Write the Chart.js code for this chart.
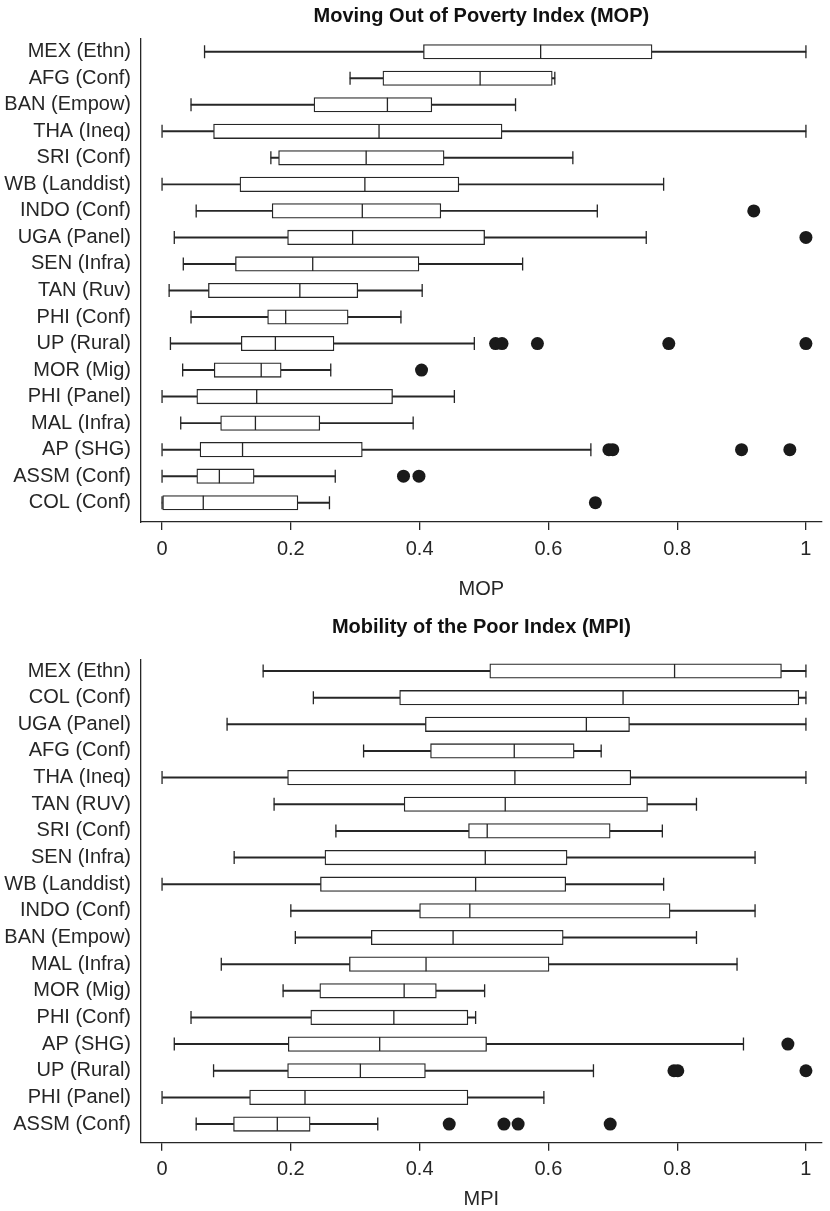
<!DOCTYPE html>
<html>
<head>
<meta charset="utf-8">
<script src="https://cdn.jsdelivr.net/npm/chart.js@4"></script>
<style>
  html, body { margin: 0; padding: 0; background: #fff; }
  #wrap { position: relative; width: 830px; height: 1211px; }
  canvas { position: absolute; left: 0; }
</style>
</head>
<body>
<div id="wrap">
  <canvas id="mop" width="830" height="610" style="top:0"></canvas>
  <canvas id="mpi" width="830" height="601" style="top:610px"></canvas>
</div>
<script>
// --- data ---
const xTicks = [0, 0.2, 0.4, 0.6, 0.8, 1];

const mopLabels = ['MEX (Ethn)', 'AFG (Conf)', 'BAN (Empow)', 'THA (Ineq)', 'SRI (Conf)', 'WB (Landdist)',
  'INDO (Conf)', 'UGA (Panel)', 'SEN (Infra)', 'TAN (Ruv)', 'PHI (Conf)', 'UP (Rural)', 'MOR (Mig)',
  'PHI (Panel)', 'MAL (Infra)', 'AP (SHG)', 'ASSM (Conf)', 'COL (Conf)'];
const mopMin    = [0.066, 0.292, 0.045, 0, 0.169, 0, 0.053, 0.019, 0.033, 0.011, 0.045, 0.013, 0.032, 0, 0.029, 0, 0, 0];
const mopQ1     = [0.406, 0.343, 0.236, 0.080, 0.181, 0.121, 0.171, 0.195, 0.114, 0.072, 0.164, 0.123, 0.081, 0.054, 0.091, 0.059, 0.054, 0];
const mopMedian = [0.588, 0.494, 0.350, 0.337, 0.317, 0.315, 0.311, 0.296, 0.234, 0.214, 0.192, 0.176, 0.154, 0.147, 0.145, 0.125, 0.089, 0.064];
const mopQ3     = [0.761, 0.606, 0.419, 0.528, 0.438, 0.461, 0.433, 0.501, 0.399, 0.304, 0.289, 0.267, 0.185, 0.358, 0.245, 0.311, 0.143, 0.211];
const mopMax    = [1, 0.610, 0.549, 1, 0.638, 0.779, 0.676, 0.752, 0.560, 0.404, 0.371, 0.485, 0.262, 0.454, 0.390, 0.666, 0.269, 0.260];
const mopOutliers = [[], [], [], [], [], [], [0.919], [1], [], [], [], [0.518, 0.528, 0.583, 0.787, 1], [0.403], [], [],
  [0.694, 0.700, 0.900, 0.975], [0.375, 0.399], [0.673]];

const mpiLabels = ['MEX (Ethn)', 'COL (Conf)', 'UGA (Panel)', 'AFG (Conf)', 'THA (Ineq)', 'TAN (RUV)', 'SRI (Conf)',
  'SEN (Infra)', 'WB (Landdist)', 'INDO (Conf)', 'BAN (Empow)', 'MAL (Infra)', 'MOR (Mig)', 'PHI (Conf)',
  'AP (SHG)', 'UP (Rural)', 'PHI (Panel)', 'ASSM (Conf)'];
const mpiMin    = [0.157, 0.235, 0.101, 0.313, 0, 0.174, 0.270, 0.112, 0, 0.200, 0.207, 0.092, 0.188, 0.045, 0.019, 0.080, 0, 0.053];
const mpiQ1     = [0.509, 0.369, 0.409, 0.417, 0.195, 0.376, 0.476, 0.253, 0.246, 0.400, 0.325, 0.291, 0.245, 0.231, 0.196, 0.195, 0.136, 0.111];
const mpiMedian = [0.796, 0.716, 0.659, 0.547, 0.548, 0.533, 0.505, 0.502, 0.487, 0.478, 0.452, 0.410, 0.376, 0.360, 0.338, 0.308, 0.222, 0.179];
const mpiQ3     = [0.962, 0.989, 0.726, 0.640, 0.728, 0.754, 0.696, 0.629, 0.627, 0.789, 0.623, 0.601, 0.426, 0.475, 0.504, 0.409, 0.475, 0.230];
const mpiMax    = [1, 1, 1, 0.682, 1, 0.830, 0.777, 0.921, 0.779, 0.921, 0.830, 0.893, 0.501, 0.487, 0.903, 0.670, 0.593, 0.335];
const mpiOutliers = [[], [], [], [], [], [], [], [], [], [], [], [], [], [], [0.972], [0.795, 0.801, 1], [],
  [0.446, 0.531, 0.553, 0.696]];

const FONT = "'Liberation Sans', 'DejaVu Sans', sans-serif";
const INK = '#262626';

function boxChart(canvasId, title, axisTitle, labels, mins, q1s, meds, q3s, maxs, outliers, L) {
  const idx = labels.map((_, i) => i);
  const lineStyle = { pointStyle: 'line', rotation: 90, borderColor: INK, borderWidth: 1.3, pointHoverRadius: 0 };
  const outPts = [];
  outliers.forEach((arr, i) => arr.forEach(v => outPts.push({ x: v, y: i })));

  new Chart(document.getElementById(canvasId), {
    type: 'bar',
    data: {
      datasets: [
        { type: 'scatter', order: 0, data: outPts, pointStyle: 'circle', pointRadius: 6.5,
          backgroundColor: '#1a1a1a', borderWidth: 0 },
        Object.assign({ type: 'scatter', order: 1, pointRadius: 7,
          data: idx.map(i => ({ x: meds[i], y: i })) }, lineStyle),
        { type: 'bar', indexAxis: 'y', order: 2, grouped: false, barThickness: 14.5,
          data: idx.map(i => ({ x: [q1s[i], q3s[i]], y: i })),
          backgroundColor: '#fff', borderColor: INK, borderWidth: 1.3, borderSkipped: false },
        Object.assign({ type: 'scatter', order: 3, pointRadius: 6.5,
          data: idx.map(i => ({ x: mins[i], y: i })).concat(idx.map(i => ({ x: maxs[i], y: i }))) }, lineStyle),
        { type: 'bar', indexAxis: 'y', order: 4, grouped: false, barThickness: 1.3,
          data: idx.map(i => ({ x: [mins[i], q1s[i]], y: i })), backgroundColor: INK, borderWidth: 0 },
        { type: 'bar', indexAxis: 'y', order: 5, grouped: false, barThickness: 1.3,
          data: idx.map(i => ({ x: [q3s[i], maxs[i]], y: i })), backgroundColor: INK, borderWidth: 0 }
      ]
    },
    options: {
      responsive: false,
      animation: false,
      events: [],
      layout: { padding: 0 },
      plugins: {
        legend: { display: false },
        tooltip: { enabled: false },
        title: {
          display: true, text: title, fullSize: false, color: '#111',
          font: { family: FONT, size: 20, weight: 'bold' },
          padding: { top: L.titleTop, bottom: L.titleBottom }
        }
      },
      scales: {
        x: {
          type: 'linear', min: -0.0327, max: 1.0245, offset: false,
          afterBuildTicks: s => { s.ticks = xTicks.map(v => ({ value: v })); },
          afterFit: s => { s.height = L.xHeight; },
          ticks: { autoSkip: false, maxRotation: 0, padding: 7, color: INK,
            font: { family: FONT, size: 20 }, callback: v => String(v) },
          grid: { offset: false, drawOnChartArea: false, drawTicks: true, tickLength: 8, color: INK, lineWidth: 1.3 },
          border: { display: true, color: INK, width: 1.3 },
          title: { display: true, text: axisTitle, color: INK, font: { family: FONT, size: 20 },
            padding: { top: 0, bottom: L.axisTitleBottom } }
        },
        y: {
          type: 'linear', reverse: true, min: L.yMin, max: L.yMax, offset: false,
          afterBuildTicks: s => { s.ticks = idx.map(v => ({ value: v })); },
          afterFit: s => { s.width = 141; },
          ticks: { autoSkip: false, padding: 10, color: INK,
            font: { family: FONT, size: 20 }, callback: v => labels[v] },
          grid: { offset: false, drawOnChartArea: false, drawTicks: false },
          border: { display: true, color: INK, width: 1.3 }
        }
      }
    }
  });
}

boxChart('mop', 'Moving Out of Poverty Index (MOP)', 'MOP', mopLabels, mopMin, mopQ1, mopMedian, mopQ3, mopMax, mopOutliers,
  { titleTop: 4, titleBottom: 11, xHeight: 88, axisTitleBottom: 9, yMin: -0.479, yMax: 17.727 });
boxChart('mpi', 'Mobility of the Poor Index (MPI)', 'MPI', mpiLabels, mpiMin, mpiQ1, mpiMedian, mpiQ3, mpiMax, mpiOutliers,
  { titleTop: 5.5, titleBottom: 20.5, xHeight: 68.3, axisTitleBottom: 0, yMin: -0.413, yMax: 17.70 });
</script>
</body>
</html>
